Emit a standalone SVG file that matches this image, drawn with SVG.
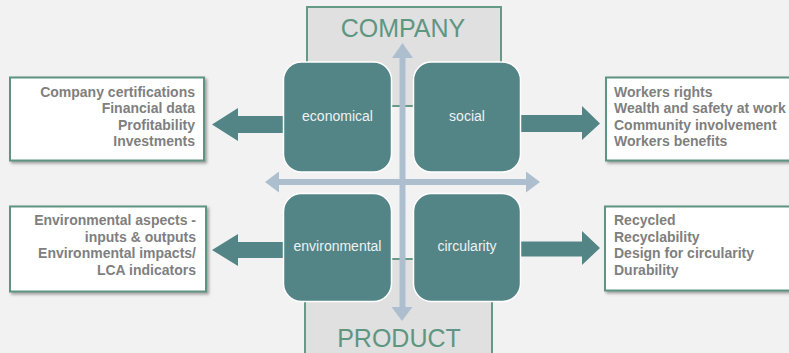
<svg xmlns="http://www.w3.org/2000/svg" width="789" height="353" viewBox="0 0 789 353">
<defs>
<style>
.bg{fill:#f2f2f2}
.axisbox{fill:#e0e0e0;stroke:#659a86;stroke-width:2}
.axislabel{font-family:"Liberation Sans",Arial,sans-serif;font-size:25px;fill:#5e9682;text-anchor:middle}
.node{fill:#538587;stroke:#ffffff;stroke-width:1.5}
.nodelabel{font-family:"Liberation Sans",Arial,sans-serif;font-size:14px;fill:#eef2f2;text-anchor:middle}
.fat{fill:#538587}
.axis{stroke:#adbfcf;stroke-width:6;fill:none}
.axishead{fill:#adbfcf}
.infobox{fill:#ffffff;stroke:#5e9482;stroke-width:2;filter:url(#sh)}
.info{font-family:"Liberation Sans",Arial,sans-serif;font-size:14px;font-weight:bold;fill:#7f7f7f}
.r{text-anchor:end}
</style>
<filter id="sh" x="-10%" y="-10%" width="130%" height="140%">
<feDropShadow dx="2" dy="2" stdDeviation="1.5" flood-color="#666666" flood-opacity="0.6"/>
</filter>
</defs>
<rect class="bg" x="0" y="0" width="789" height="353"/>

<g id="company">
<rect class="axisbox" x="307" y="7" width="194" height="99"/>
<text class="axislabel" x="403" y="37">COMPANY</text>
</g>
<g id="product">
<rect class="axisbox" x="305" y="259" width="187" height="100"/>
<text class="axislabel" x="399" y="347">PRODUCT</text>
</g>

<g id="connectors">
<line class="axis" x1="402.5" y1="56" x2="402.5" y2="310"/>
<polygon class="axishead" points="402.5,43 392,58 413,58"/>
<polygon class="axishead" points="402,321 391.5,307 412.5,307"/>
<line class="axis" x1="277" y1="182" x2="528" y2="182"/>
<polygon class="axishead" points="265,182 279,171.5 279,192.5"/>
<polygon class="axishead" points="540,182 526,171.5 526,192.5"/>
<polygon class="fat" points="284,116 238,116 238,108 212,124.5 238,141 238,133 284,133"/>
<polygon class="fat" points="520,115 582,115 582,106 600,123.5 582,140 582,132 520,132"/>
<polygon class="fat" points="284,242 238,242 238,234 212,250 238,266 238,258 284,258"/>
<polygon class="fat" points="520,241.5 582,241.5 582,231 600,248 582,265 582,256.5 520,256.5"/>
</g>

<g id="economical">
<rect class="node" x="283.5" y="62" width="108" height="110" rx="18"/>
<text class="nodelabel" x="337.5" y="121">economical</text>
</g>
<g id="social">
<rect class="node" x="413.5" y="62" width="107" height="110" rx="18"/>
<text class="nodelabel" x="467" y="121">social</text>
</g>
<g id="environmental">
<rect class="node" x="283.5" y="193.5" width="108" height="108" rx="18"/>
<text class="nodelabel" x="337.5" y="251">environmental</text>
</g>
<g id="circularity">
<rect class="node" x="413.5" y="193.5" width="107" height="108" rx="18"/>
<text class="nodelabel" x="467" y="251">circularity</text>
</g>

<g id="company-info">
<rect class="infobox" x="10" y="77.5" width="194" height="83"/>
<text class="info r" x="195" y="96.5">Company certifications</text>
<text class="info r" x="195" y="113">Financial data</text>
<text class="info r" x="195" y="129.7">Profitability</text>
<text class="info r" x="195" y="146.3">Investments</text>
</g>
<g id="social-info">
<rect class="infobox" x="606" y="77.5" width="190" height="83"/>
<text class="info" x="614" y="96.5">Workers rights</text>
<text class="info" x="614" y="113">Wealth and safety at work</text>
<text class="info" x="614" y="129.7">Community involvement</text>
<text class="info" x="614" y="146.3">Workers benefits</text>
</g>
<g id="environmental-info">
<rect class="infobox" x="10" y="206.5" width="196" height="85"/>
<text class="info r" x="196" y="225">Environmental aspects -</text>
<text class="info r" x="196" y="241.7">inputs &amp; outputs</text>
<text class="info r" x="196" y="258">Environmental impacts/</text>
<text class="info r" x="196" y="274.5">LCA indicators</text>
</g>
<g id="circularity-info">
<rect class="infobox" x="605" y="206.5" width="191" height="84"/>
<text class="info" x="614" y="225">Recycled</text>
<text class="info" x="614" y="241.7">Recyclability</text>
<text class="info" x="614" y="258.3">Design for circularity</text>
<text class="info" x="614" y="275">Durability</text>
</g>
</svg>
